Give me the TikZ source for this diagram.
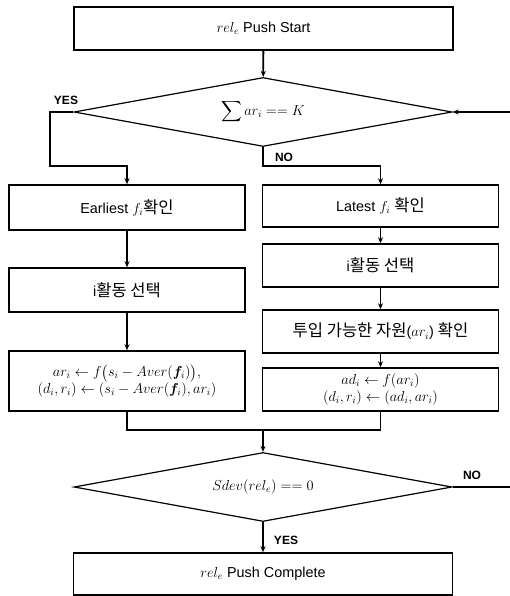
\documentclass[tikz,border=0pt]{standalone}
\usepackage{amsmath,amssymb,bm}
\usepackage{fontspec}
\setmainfont{Liberation Sans}
\newfontfamily\kr[Scale=1.15]{Noto Sans CJK KR}
\usetikzlibrary{shapes.geometric,arrows.meta,positioning}

\tikzset{
  stepbox/.style={draw, line width=1.5pt, inner sep=0pt, align=center,
    font=\fontsize{14.4}{17}\selectfont},
  wide/.style={stepbox, minimum width=379pt, minimum height=43pt},
  col/.style={stepbox, minimum width=236pt, minimum height=43pt},
  decide/.style={draw, diamond, aspect=5.48, line width=1.2pt, inner sep=0pt,
    minimum width=378pt, minimum height=69pt, font=\fontsize{14.4}{17}\selectfont},
  flow/.style={line width=1.8pt, -{Stealth[length=6pt,width=5pt]}},
  line/.style={line width=1.8pt},
  yn/.style={font=\bfseries\fontsize{12}{12}\selectfont, inner sep=0pt}
}

\begin{document}
\begin{tikzpicture}[x=1pt,y=-1pt]
  \useasboundingbox (0,0) rectangle (510,596);

  % top of the chart
  \node [wide] (start) at (263.5,28.5) {$rel_e$ Push Start};
  \node [decide] (sumk) at (263,112) {$\displaystyle\sum ar_i \mathrel{==} K$};
  \coordinate (backin) at (510,112);

  % left column (YES)
  \node [col, minimum height=45pt] (early) at (127,207.5) {Earliest $f_i${\kr 확인}};
  \node [col, minimum height=44pt] (selL) at (127,290) {i{\kr 활동 선택}};
  \node [col, minimum height=60pt] (asgL) at (127,381)
    {$ar_i \leftarrow f\big(s_i - Aver(\bm{f}_i)\big),$\\
     $(d_i, r_i) \leftarrow (s_i - Aver(\bm{f}_i), ar_i)$};

  % right column (NO)
  \node [col, minimum height=42pt] (late) at (380.5,206) {Latest $f_i$ {\kr 확인}};
  \node [col] (selR) at (380.5,265.5) {i{\kr 활동 선택}};
  \node [col] (res) at (380.5,331.5) {{\kr 투입 가능한 자원}($ar_i$) {\kr 확인}};
  \node [col] (asgR) at (380.5,389.5)
    {$ad_i \leftarrow f(ar_i)$\\ $(d_i, r_i) \leftarrow (ad_i, ar_i)$};

  % bottom of the chart
  \coordinate (mrg) at (263,430);
  \node [decide] (sdev) at (263,487) {$Sdev(rel_e) \mathrel{==} 0$};
  \coordinate (backout) at (510,487);
  \node [wide, minimum height=42pt] (done) at (263,574) {$rel_e$ Push Complete};

  % connectors
  \draw [flow] (start) -- (sumk);
  \draw [flow] (sumk.west) -- (50,112) |- (127,166) -- (early);
  \draw [flow] (sumk.south) |- (380.5,166) -- (late);
  \draw [flow] (backin) -- (sumk.east);
  \draw [flow] (early) -- (selL);
  \draw [flow] (selL) -- (asgL);
  \draw [flow] (late) -- (selR);
  \draw [flow] (selR) -- (res);
  \draw [flow] (res) -- (asgR);
  \draw [line] (asgL.south) |- (mrg) -| (asgR.south);
  \draw [flow] (mrg) -- (sdev);
  \draw [line] (sdev.east) -- (backout);
  \draw [flow] (sdev) -- (done);

  % labels
  \node [yn] (y1) at (66,100) {YES};
  \node [yn] (n1) at (284,157) {NO};
  \node [yn] (n2) at (472,475) {NO};
  \node [yn] (y2) at (286,540) {YES};
\end{tikzpicture}
\end{document}
